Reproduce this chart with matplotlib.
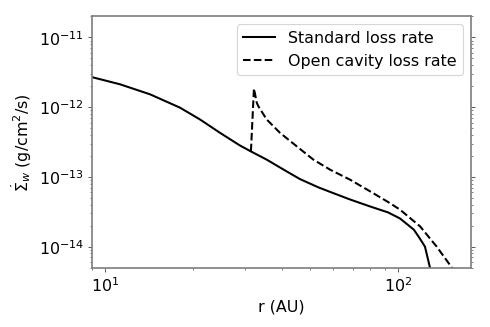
import matplotlib.pyplot as plt

# values (r in AU, rate in g/cm^2/s)
r_std = [8.99, 11.22, 14.21, 17.99, 21.05, 24.64, 28.83, 31.35, 35.55, 41.6, 46.2, 53.3,
         58.5, 68.4, 80.1, 92.2, 101.3, 113.0, 118.0, 123.3, 128.4, 130.5]
rate_std = [2.7e-12, 2.13e-12, 1.53e-12, 9.84e-13, 6.67e-13, 4.29e-13, 2.82e-13, 2.33e-13,
            1.77e-13, 1.2e-13, 9.3e-14, 7.1e-14, 6.1e-14, 4.75e-14, 3.77e-14, 3.1e-14,
            2.54e-14, 1.75e-14, 1.34e-14, 1.0e-14, 4.9e-15, 3.0e-15]

r_open = [31.43, 32.18, 32.9, 33.27, 35.55, 39.47, 45.0, 51.3, 58.5, 68.4, 80.1, 92.0,
          101.3, 118.7, 135.2, 152.0, 158.0]
rate_open = [2.33e-13, 1.85e-12, 1.16e-12, 1.04e-12, 6.67e-13, 4.29e-13, 2.75e-13, 1.77e-13,
             1.27e-13, 9.14e-14, 6.21e-14, 4.4e-14, 3.4e-14, 1.95e-14, 1.0e-14, 5.07e-15, 3.5e-15]

plt.rcParams['font.size'] = 14

fig = plt.figure(figsize=(6, 4), dpi=81.83)
ax = fig.add_axes([0.1868, 0.1813, 0.9593 - 0.1868, 0.949 - 0.1813])

ax.plot(r_std, rate_std, 'k-', lw=1.8, label='Standard loss rate')
ax.plot(r_open, rate_open, 'k--', lw=1.8, label='Open cavity loss rate')

ax.set_xscale('log')
ax.set_yscale('log')
ax.set_xlim(9, 177)
ax.set_ylim(5e-15, 2e-11)
ax.set_xlabel('r (AU)')
ax.set_ylabel(r'$\dot{\Sigma}_w$ (g/cm$^2$/s)')

for s in ax.spines.values():
    s.set_color('gray')
    s.set_linewidth(1.5)
ax.yaxis.set_ticks_position('both')
ax.tick_params(which='both', color='0.3')

ax.legend(loc='upper right')

fig.savefig('out.png', dpi=81.83)
